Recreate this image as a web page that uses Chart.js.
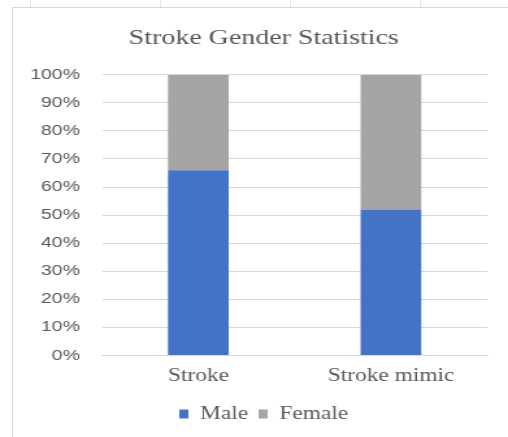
<!DOCTYPE html>
<html>
<head>
<meta charset="utf-8">
<script src="https://cdn.jsdelivr.net/npm/chart.js@4/dist/chart.umd.min.js"></script>
<style>
html,body{margin:0;padding:0;background:#fff;overflow:hidden;}
#frame{position:absolute;left:12px;top:7px;width:496px;height:430px;border-left:1px solid #d9d9d9;border-top:1px solid #d9d9d9;}
.tk{position:absolute;top:0;width:1px;height:7px;background:#e6e6e6;}
#wrap{position:absolute;left:0;top:0;width:391px;height:437px;transform:scaleX(1.2993);transform-origin:0 0;}
canvas{position:absolute;left:0;top:0;}
</style>
</head>
<body>
<div id="frame"></div>
<div class="tk" style="left:30px"></div>
<div class="tk" style="left:160px"></div>
<div class="tk" style="left:290px"></div>
<div class="tk" style="left:420px"></div>
<div id="wrap">
<canvas id="c" width="391" height="437"></canvas>
</div>
<script>
const categories = ["Stroke", "Stroke mimic"];
const maleValues = [66, 52];
const femaleValues = [34, 48];
const seriesNames = ["Male", "Female"];
const titleText = "Stroke Gender Statistics";

Chart.defaults.font.family = 'Liberation Serif';
Chart.defaults.font.size = 17;
Chart.defaults.color = '#595959';

const ctx = document.getElementById('c');
new Chart(ctx, {
  type: 'bar',
  data: {
    labels: categories,
    datasets: [
      {label: seriesNames[0], data: maleValues, backgroundColor: '#4472c4', borderWidth: 0, barPercentage: 0.315, categoryPercentage: 1},
      {label: seriesNames[1], data: femaleValues, backgroundColor: '#a5a5a5', borderWidth: 0, barPercentage: 0.315, categoryPercentage: 1}
    ]
  },
  options: {
    responsive: false,
    animation: false,
    devicePixelRatio: 1,
    layout: {padding: {left: 31, right: 16, top: 25, bottom: 4}},
    plugins: {
      title: {display: true, text: titleText, color: '#595959', font: {family: 'Liberation Serif', size: 21.5, weight: 'normal'}, padding: {top: 0, bottom: 24}},
      legend: {position: 'bottom', labels: {color: '#595959', font: {family: 'Liberation Serif', size: 18}, boxWidth: 7, boxHeight: 9, padding: 8}},
      tooltip: {enabled: false}
    },
    scales: {
      x: {
        stacked: true,
        grid: {display: false, drawTicks: false},
        border: {display: true, color: '#d9d9d9'},
        ticks: {color: '#595959', font: {family: 'Liberation Serif', size: 18}, padding: 10}
      },
      y: {
        stacked: true,
        min: 0, max: 100,
        afterFit: s => { s.width = 47.5; s._computeLabelArea = () => undefined; },
        grid: {color: '#d9d9d9', drawTicks: false},
        border: {display: false},
        ticks: {stepSize: 10, color: '#595959', font: {family: 'Liberation Sans', size: 15}, padding: 17, callback: v => v + '%'}
      }
    }
  }
});
</script>
</body>
</html>
